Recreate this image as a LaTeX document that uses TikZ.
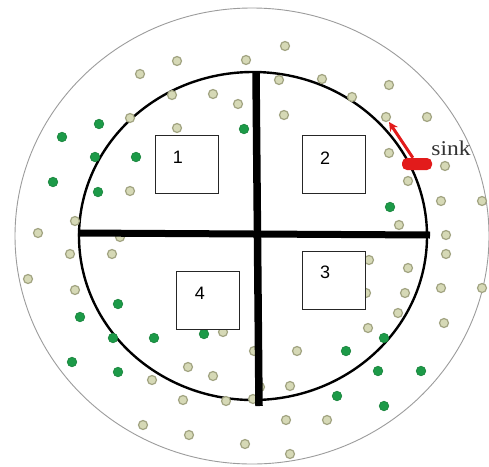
\documentclass[tikz,border=0pt]{standalone}
\usepackage{fontspec}
\setmainfont{Liberation Serif}
\newfontfamily\zonefont{Liberation Sans}
\usepackage{tikz}
\usetikzlibrary{arrows.meta,positioning}
\definecolor{FieldRing}{HTML}{9C9C9C}
\definecolor{NodeFill}{HTML}{D6D9B6}
\definecolor{NodeLine}{HTML}{A2A482}
\definecolor{HeadFill}{HTML}{1C9A48}
\definecolor{HeadLine}{HTML}{168239}
\definecolor{SinkRed}{HTML}{E21B1B}

\begin{document}
\begin{tikzpicture}[x=1pt,y=-1pt,
  greydot/.style={circle, fill=NodeFill, draw=NodeLine, line width=1.2pt, inner sep=0pt, minimum size=9pt},
  greendot/.style={circle, fill=HeadFill, draw=HeadLine, line width=0.6pt, inner sep=0pt, minimum size=9.6pt},
  zonebox/.style={draw=black!85, line width=0.9pt, fill=white, minimum width=63pt, minimum height=58pt},
  zonelabel/.style={font=\zonefont\fontsize{18}{18}\selectfont, inner sep=0pt}
]
  \useasboundingbox[fill=white] (0,0) rectangle (489,466);

  % field and cluster ring
  \draw[FieldRing, line width=0.9pt] (252,236) ellipse [x radius=237, y radius=228];
  \draw[black, line width=2.4pt] (253,236) ellipse [x radius=174, y radius=164];

  % ordinary sensor nodes
  \foreach \x/\y in {177/61, 140/74, 172/95, 213/94, 238/104, 246/60, 130/118, 177/128,
                     130/191, 75/221, 38/233, 285/46, 279/80, 322/79, 352/97, 389/85,
                     284/115, 386/117, 427/117, 389/153, 445/166, 408/181, 441/201, 482/201,
                     399/225, 446/235, 446/254, 369/260, 408/268, 120/237, 70/254, 112/254,
                     28/279, 75/290, 223/332, 152/380, 188/367, 213/376, 183/400, 226/401,
                     143/425, 189/435, 245/444, 405/293, 441/288, 482/288, 398/313, 368/328,
                     444/323, 297/351, 254/351, 290/386, 260/387, 253/399, 286/420, 327/420,
                     290/454, 366/293}
    \node[greydot] at (\x,\y) {};

  % green nodes
  \foreach \x/\y in {244/129, 99/124, 62/137, 95/157, 136/157, 53/182, 98/192, 390/207,
                     118/304, 80/317, 113/338, 154/338, 204/334, 72/362, 118/372, 384/338,
                     346/351, 378/371, 421/371, 337/396, 384/406}
    \node[greendot] at (\x,\y) {};

  % the cross
  \coordinate (top) at (256,72);
  \coordinate (bottom) at (259,406);
  \coordinate (left) at (78,233);
  \coordinate (right) at (430,235);
  \draw[line width=7.5pt] (top) -- (bottom);
  \draw[line width=7pt] (left) -- (right);

  \node[zonebox] (zone1) at (186.5,164) {};
  \node[zonebox] (zone2) at (333.5,164) {};
  \node[zonebox] (zone3) at (333.5,280.5) {};
  \node[zonebox] (zone4) at (207.5,300.5) {};

  \node[zonelabel] (lab1) at (178,157) {1};
  \node[zonelabel] (lab2) at (325,158) {2};
  \node[zonelabel] (lab3) at (325,272) {3};
  \node[zonelabel] (lab4) at (200,293) {4};

  \node[
    fill=SinkRed,
    rounded corners=5pt,
    inner sep=0pt,
    minimum width=30pt,
    minimum height=12pt
  ] (sink) at (417,164) {};
  \coordinate (sinkhead) at (389,122);
  \draw[-{Stealth[length=9pt,width=9pt]}, SinkRed, line width=3pt] (sink) -- (sinkhead);

  \node[font=\fontsize{21}{21}\selectfont, text=black!80, inner sep=0pt] (sinklabel) at (451,148) {\scalebox{1.12}[1]{sink}};

\end{tikzpicture}
\end{document}
